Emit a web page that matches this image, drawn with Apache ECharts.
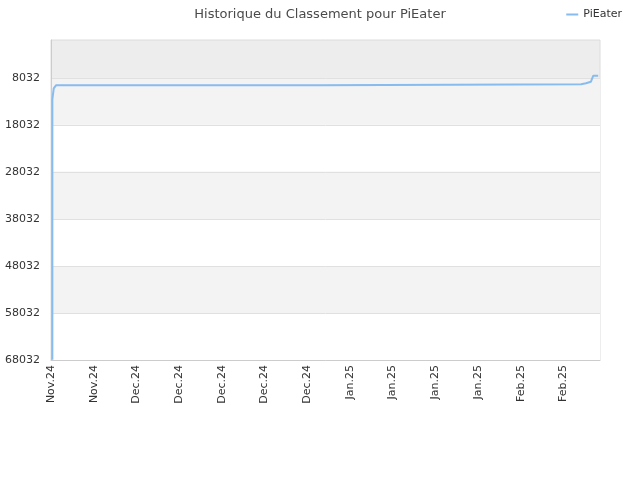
<!DOCTYPE html>
<html>
<head>
<meta charset="utf-8">
<script src="https://cdn.jsdelivr.net/npm/echarts@6/dist/echarts.min.js"></script>
<style>html,body{margin:0;padding:0;background:#fff}#c{width:640px;height:480px}</style>
</head>
<body>
<div id="c"></div>
<script>
// Start date of the x axis (day 0)
var startDate = [2024, 10, 18]; // 18 Nov 2024 (month 0-based)
var monthNames = ['Jan.', 'Feb.', 'Mar.', 'Apr.', 'May.', 'Jun.', 'Jul.', 'Aug.', 'Sep.', 'Oct.', 'Nov.', 'Dec.'];
// Observed days (offset from start) and rank values
var days  = [0.22,  0.22,  0.42,  0.45,  0.6,  0.85, 43.85, 43.9, 86.9, 87.2, 87.7, 87.9, 88.5, 88.9, 89.7];
var ranks = [68000, 12650, 12650, 10300, 9900, 9606, 9606,  9393, 9393, 9202, 9202, 8883, 8883, 7600, 7600];
// Y tick labels
var yTicks = [8032, 18032, 28032, 38032, 48032, 58032, 68032];
var seriesName = 'PiEater';

var points = days.map(function (d, i) { return [d, ranks[i]]; });

function dayLabel(v) {
  var d = new Date(startDate[0], startDate[1], startDate[2] + Math.round(v));
  var yy = String(d.getFullYear()).slice(2);
  return monthNames[d.getMonth()] + yy;
}

var chart = echarts.init(document.getElementById('c'), null, {renderer: 'canvas'});
chart.setOption({
  animation: false,
  textStyle: {fontFamily: 'DejaVu Sans'},
  title: {
    text: 'Historique du Classement pour PiEater',
    left: 'center', top: 3,
    textStyle: {fontSize: 13, fontWeight: 'normal', color: '#4a4a4a', fontFamily: 'DejaVu Sans'}
  },
  legend: {
    right: 13, top: 4,
    data: [{name: seriesName, icon: 'rect'}],
    itemWidth: 12, itemHeight: 2, itemGap: 6,
    textStyle: {fontSize: 11, color: '#333', fontFamily: 'DejaVu Sans'}
  },
  grid: {
    left: 51, right: 40, top: 40, bottom: 120,
    show: true, backgroundColor: '#ededed', borderColor: '#dcdcdc', borderWidth: 1
  },
  xAxis: {
    type: 'value', min: 0, max: 90, interval: 7,
    axisLine: {show: true, lineStyle: {color: '#ccc'}},
    axisTick: {show: false},
    splitLine: {show: false},
    axisLabel: {rotate: 90, fontSize: 11, color: '#333', margin: 5, formatter: dayLabel, showMaxLabel: false}
  },
  yAxis: {
    type: 'value', inverse: true, min: 1, max: 68032,
    axisLine: {show: true, lineStyle: {color: '#ccc'}},
    axisTick: {show: false, customValues: yTicks},
    axisLabel: {fontSize: 11, color: '#333', margin: 11, customValues: yTicks,
      formatter: function (v) { return String(v); }},
    splitLine: {show: true, lineStyle: {color: '#e0e0e0'}},
    splitArea: {show: true, areaStyle: {color: ['#f3f3f3', '#ffffff']}}
  },
  series: [{
    name: seriesName,
    type: 'line',
    smooth: false,
    data: points,
    showSymbol: false,
    symbol: 'none',
    lineStyle: {color: '#88bbee', width: 2},
    itemStyle: {color: '#88bbee'}
  }]
});
</script>
</body>
</html>
